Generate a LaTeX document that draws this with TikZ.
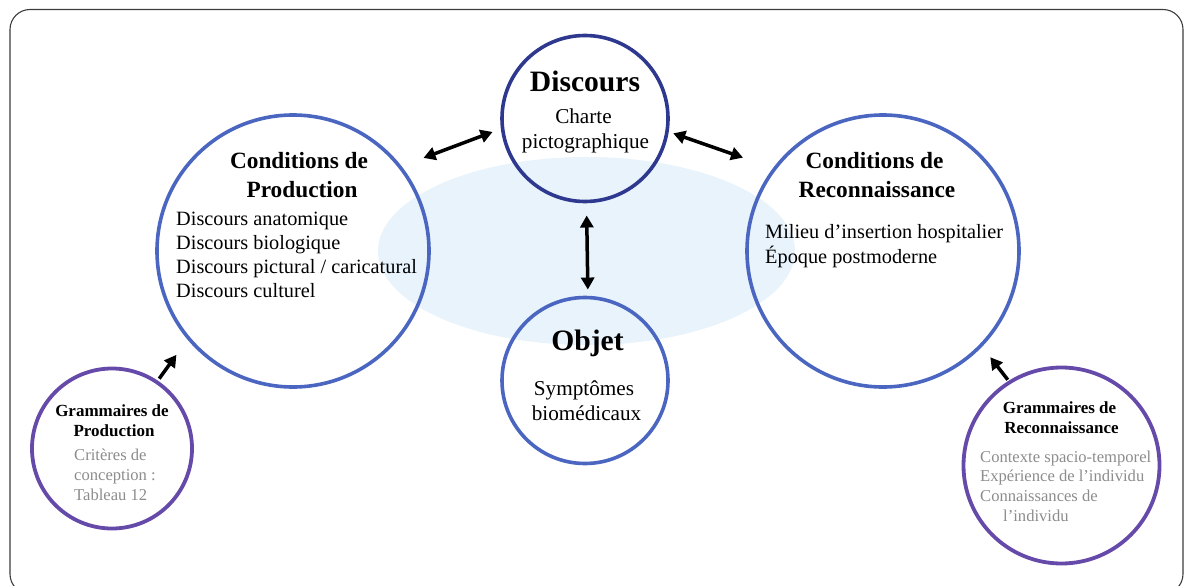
\documentclass[tikz,border=0pt]{standalone}
\usepackage{fontspec}
\setmainfont{Liberation Serif}
\usetikzlibrary{arrows.meta}

\definecolor{navyring}{RGB}{46,56,142}
\definecolor{bluering}{RGB}{74,102,192}
\definecolor{purplering}{RGB}{102,74,170}
\definecolor{haze}{RGB}{232,243,251}
\definecolor{softgray}{RGB}{140,140,140}
\definecolor{framegray}{RGB}{60,60,60}

\tikzset{
  ring/.style={circle, draw, line width=3.6pt, inner sep=0pt},
  smallring/.style={circle, draw=purplering, line width=3.8pt, inner sep=0pt},
  txt/.style={inner sep=0pt, anchor=base},
  txtl/.style={inner sep=0pt, anchor=base west},
  bigtitle/.style={font=\fontsize{29.6}{32}\selectfont\bfseries},
  midtitle/.style={font=\fontsize{23.3}{26}\selectfont\bfseries},
  smalltitle/.style={font=\fontsize{17}{19}\selectfont\bfseries},
  bodytext/.style={font=\fontsize{21.2}{24}\selectfont},
  listtext/.style={font=\fontsize{20.3}{24}\selectfont},
  graytext/.style={font=\fontsize{16.6}{19}\selectfont, text=softgray},
  tip/.tip={Triangle[length=12pt,width=13pt]},
  dblarrow/.style={line width=3.5pt, tip-tip},
  onearrow/.style={line width=3.5pt, -tip},
}

\begin{document}
\begin{tikzpicture}[x=1pt, y=-1pt]
  \useasboundingbox (0,0) rectangle (1186,586);
  \clip (0,0) rectangle (1186,586);

  % outer frame
  \draw[framegray, line width=1.1pt, rounded corners=20pt] (10,9.5) rectangle (1183,594);

  % pale background ellipse
  \fill[haze] (586.5,251) ellipse [x radius=208.5, y radius=94];

  % circles
  \node[ring, draw=navyring, minimum size=166pt] (disc) at (585,118.5) {};
  \node[ring, draw=bluering, minimum size=166pt] (obj) at (585,380.5) {};
  \node[ring, draw=bluering, minimum size=272pt] (prod) at (293,251) {};
  \node[ring, draw=bluering, minimum size=272pt] (reco) at (883,251) {};
  \node[smallring, minimum size=160pt] (gp) at (112,448.5) {};
  \node[smallring, minimum size=196pt] (gr) at (1061.5,465.5) {};

  % Discours
  \node[txt, bigtitle] (discT) at (585,92) {Discours};
  \node[txt, bodytext] (discA) at (583.5,123) {Charte};
  \node[txt, bodytext] (discB) at (585.5,148) {pictographique};

  % Objet
  \node[txt, bigtitle] (objT) at (587.5,350) {Objet};
  \node[txt, bodytext] (objA) at (584,395) {Symptômes};
  \node[txt, bodytext] (objB) at (586.5,420) {biomédicaux};

  % Conditions de Production
  \node[txt, midtitle] (prodT1) at (299,168) {Conditions de};
  \node[txt, midtitle] (prodT2) at (302,197) {Production};
  \node[txtl, listtext] (prodA) at (176,225) {Discours anatomique};
  \node[txtl, listtext] (prodB) at (176,249) {Discours biologique};
  \node[txtl, listtext] (prodC) at (176,273) {Discours pictural / caricatural};
  \node[txtl, listtext] (prodD) at (176,297.5) {Discours culturel};

  % Conditions de Reconnaissance
  \node[txt, midtitle] (recoT1) at (874.5,168) {Conditions de};
  \node[txt, midtitle] (recoT2) at (877,197) {Reconnaissance};
  \node[txtl, listtext] (recoA) at (765,238.5) {Milieu d’insertion hospitalier};
  \node[txtl, listtext] (recoB) at (765,263.5) {Époque postmoderne};

  % Grammaires de Production
  \node[txt, smalltitle] (gpT1) at (112,416) {Grammaires de};
  \node[txt, smalltitle] (gpT2) at (114,436) {Production};
  \node[txtl, graytext] (gpA) at (74,460) {Critères de};
  \node[txtl, graytext] (gpB) at (74,480) {conception :};
  \node[txtl, graytext] (gpC) at (74,500) {Tableau 12};

  % Grammaires de Reconnaissance
  \node[txt, smalltitle] (grT1) at (1059.5,413) {Grammaires de};
  \node[txt, smalltitle] (grT2) at (1061.5,433) {Reconnaissance};
  \node[txtl, graytext] (grA) at (980,462) {Contexte spacio-temporel};
  \node[txtl, graytext] (grB) at (980,481.5) {Expérience de l’individu};
  \node[txtl, graytext] (grC) at (980,501) {Connaissances de};
  \node[txtl, graytext] (grD) at (1003,521.5) {l’individu};

  % connectors
  \draw[dblarrow, shorten <=23.4pt, shorten >=8.8pt] (prod.38.1) -- (disc.187.1);
  \draw[dblarrow, shorten <=4.7pt, shorten >=31.7pt] (disc.351.9) -- (reco.143.4);
  \draw[dblarrow, shorten <=12.2pt, shorten >=6.2pt] (disc.271.4) -- (obj.88.6);
  \draw[onearrow, shorten <=2.4pt, shorten >=18.8pt] (gp.56) -- (prod.220.4);
  \draw[onearrow, shorten <=1.3pt, shorten >=13.3pt] (gr.122) -- (reco.316);
\end{tikzpicture}
\end{document}
